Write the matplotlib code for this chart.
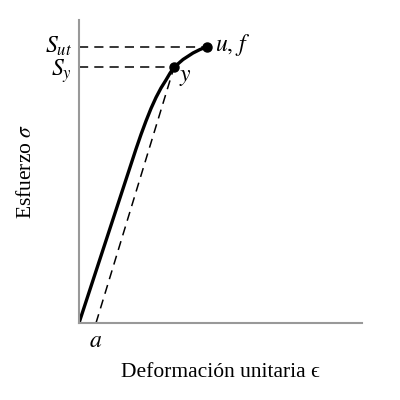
import numpy as np
import matplotlib
matplotlib.use("Agg")
import matplotlib.pyplot as plt

plt.rcParams['font.family'] = ['Liberation Serif', 'DejaVu Serif']
plt.rcParams['mathtext.fontset'] = 'stix'

# curva esfuerzo-deformacion (unidades arbitrarias)
deformacion = [0, 57, 62, 67, 72, 77, 82, 87, 91, 95,
               104, 114, 121, 128.3]
esfuerzo = [0, 174, 188.5, 202, 214.5, 225.5, 235, 243, 249.8, 255.7,
            263.5, 270, 273.5, 276.3]

# puntos caracteristicos
eps_a = 17
eps_y, S_y = 95, 255.7
eps_u, S_ut = 128.3, 276.3

fig = plt.figure(figsize=(4, 4), dpi=100)
ax = fig.add_axes([0.1975, 0.1925, 0.7075, 0.7575])
ax.set_xlim(0, 283)
ax.set_ylim(0, 303)

for s in ['top', 'right']:
    ax.spines[s].set_visible(False)
for s in ['left', 'bottom']:
    ax.spines[s].set_color('#999999')
    ax.spines[s].set_linewidth(1.5)
ax.set_xticks([])
ax.set_yticks([])

dash = dict(color='black', lw=1.1, linestyle=(0, (6, 4)))
ax.plot([0, eps_u], [S_ut, S_ut], **dash)
ax.plot([0, eps_y], [S_y, S_y], **dash)
ax.plot([eps_a, eps_y], [0, S_y], **dash)

ax.plot(deformacion, esfuerzo, color='black', lw=2.4,
        solid_capstyle='round', solid_joinstyle='round')
ax.plot([eps_y, eps_u], [S_y, S_ut], 'o', color='black', ms=6.5)

ax.text(-7, S_ut, '$S_{ut}$', fontsize=17, ha='right', va='center')
ax.text(-7, S_y - 4, '$S_y$', fontsize=17, ha='right', va='center')
ax.text(eps_u + 8, S_ut + 2, '$u,\\,f$', fontsize=17, ha='left', va='center')
ax.text(eps_y + 5, S_y - 10, '$y$', fontsize=17, ha='left', va='center')
ax.text(eps_a, -8, '$a$', fontsize=17, ha='center', va='top')

ax.set_xlabel('Deformación unitaria ϵ', fontsize=15.5, labelpad=29)
ax.set_ylabel('Esfuerzo $\\sigma$', fontsize=15.5, labelpad=31)

fig.savefig('out.png', dpi=100)
